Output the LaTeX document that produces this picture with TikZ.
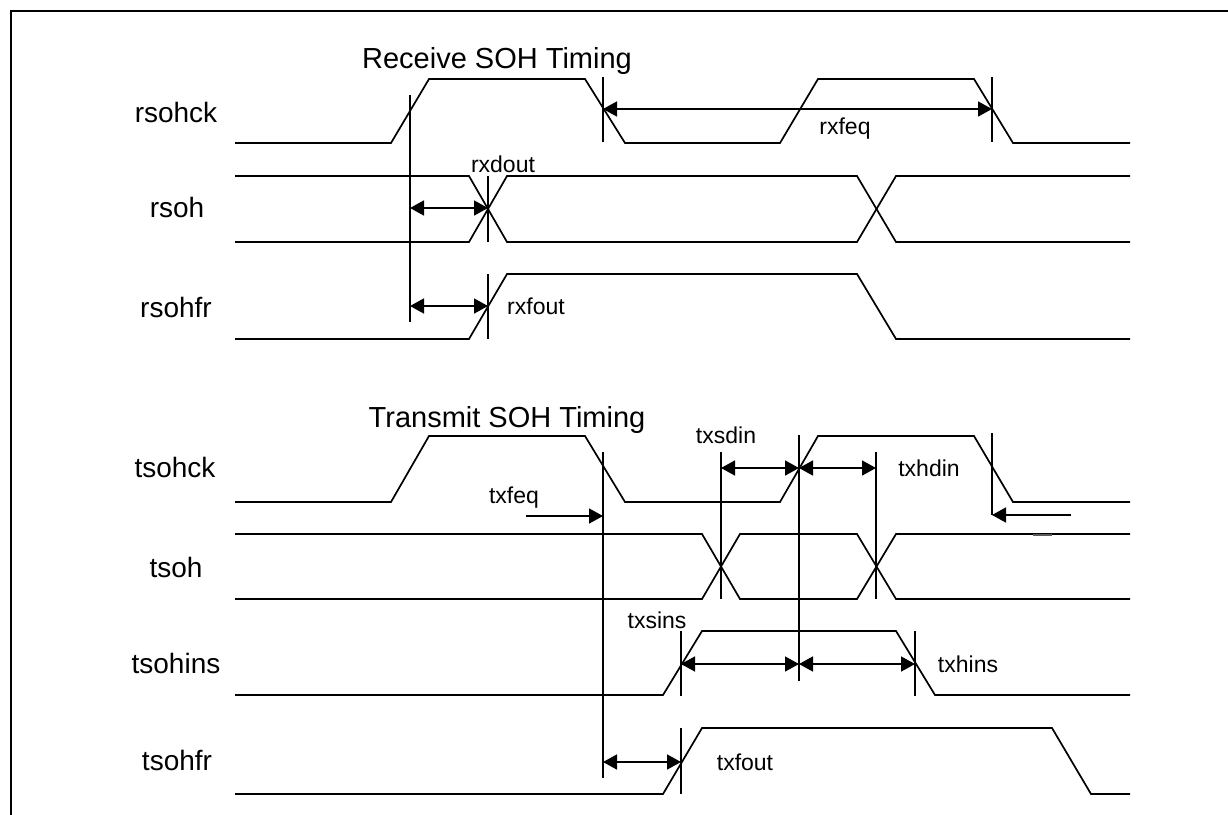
\documentclass[tikz,border=0pt]{standalone}
\usepackage{fontspec}
\setmainfont{Liberation Sans}
\usetikzlibrary{arrows.meta}
\begin{document}
\begin{tikzpicture}[x=1pt,y=-1pt,
  wave/.style={line width=1.7pt,line join=miter},
  vmark/.style={line width=1.6pt},
  dimarrow/.style={line width=1.6pt,{Triangle[length=14pt,width=15pt]}-{Triangle[length=14pt,width=15pt]}},
  onearrow/.style={line width=1.6pt,-{Triangle[length=14pt,width=15pt]}},
  siglabel/.style={font=\fontsize{28}{32}\selectfont,anchor=base,inner sep=0pt},
  titlelabel/.style={font=\fontsize{29}{33}\selectfont,anchor=base,inner sep=0pt},
  smalllabel/.style={font=\fontsize{23}{27}\selectfont,anchor=base,inner sep=0pt}]
\useasboundingbox (0,0) rectangle (1228,814);
% frame
\draw[line width=2pt] (1230,11) -- (11,11) -- (11,816);

% ---------- Receive ----------
\node[titlelabel] (rtitle) at (497,68) {Receive SOH Timing};
\node[siglabel] (lrsohck) at (176,122) {rsohck};
\node[siglabel] (lrsoh) at (177,217) {rsoh};
\node[siglabel] (lrsohfr) at (176,317) {rsohfr};

% rsohck
\draw[wave] (235,143) -- (391,143) -- (429,79) -- (585,79) -- (625,143) -- (780,143) -- (818,79) -- (974,79) -- (1013,143) -- (1130,143);
% rsoh
\draw[wave] (235,176) -- (469,176) -- (507,242) -- (857,242) -- (896,176) -- (1130,176);
\draw[wave] (235,242) -- (469,242) -- (507,176) -- (857,176) -- (896,242) -- (1130,242);
% rsohfr
\draw[wave] (235,339) -- (469,339) -- (507,274) -- (857,274) -- (896,339) -- (1130,339);

% markers
\coordinate (ra1) at (410,95);   \coordinate (ra2) at (410,322);
\coordinate (rb1) at (603,77);   \coordinate (rb2) at (603,142);
\coordinate (rc1) at (992,77);   \coordinate (rc2) at (992,142);
\coordinate (rd1) at (488,176);  \coordinate (rd2) at (488,242);
\coordinate (re1) at (488,274);  \coordinate (re2) at (488,339);
\draw[vmark] (ra1) -- (ra2);
\draw[vmark] (rb1) -- (rb2);
\draw[vmark] (rc1) -- (rc2);
\draw[vmark] (rd1) -- (rd2);
\draw[vmark] (re1) -- (re2);

\coordinate (rxfeqA) at (603,109); \coordinate (rxfeqB) at (992,109);
\draw[dimarrow] (rxfeqA) -- (rxfeqB);
\node[smalllabel] (lrxfeq) at (845,134) {rxfeq};
\coordinate (rxdoutA) at (410,208); \coordinate (rxdoutB) at (488,208);
\draw[dimarrow] (rxdoutA) -- (rxdoutB);
\node[smalllabel] (lrxdout) at (503,172) {rxdout};
\coordinate (rxfoutA) at (410,306); \coordinate (rxfoutB) at (488,306);
\draw[dimarrow] (rxfoutA) -- (rxfoutB);
\node[smalllabel] (lrxfout) at (536,314) {rxfout};

% ---------- Transmit ----------
\node[titlelabel] (ttitle) at (507,427) {Transmit SOH Timing};
\node[siglabel] (ltsohck) at (175,477) {tsohck};
\node[siglabel] (ltsoh) at (176,577) {tsoh};
\node[siglabel] (ltsohins) at (176,673) {tsohins};
\node[siglabel] (ltsohfr) at (177,770) {tsohfr};

% tsohck
\draw[wave] (235,502) -- (391,502) -- (429,436) -- (585,436) -- (625,502) -- (780,502) -- (818,436) -- (974,436) -- (1013,502) -- (1130,502);
% tsoh
\draw[wave] (235,534) -- (702,534) -- (740,599) -- (857,599) -- (896,534) -- (1130,534);
\draw[wave] (235,599) -- (702,599) -- (740,534) -- (857,534) -- (896,599) -- (1130,599);
\draw[line width=2.6pt,gray!70!black] (1033,535) -- (1052,535);
% tsohins
\draw[wave] (235,695) -- (663,695) -- (702,631) -- (896,631) -- (935,695) -- (1130,695);
% tsohfr
\draw[wave] (235,794) -- (663,794) -- (702,728) -- (1052,728) -- (1091,794) -- (1130,794);

% markers
\coordinate (ta1) at (603,452);  \coordinate (ta2) at (603,778);
\coordinate (tb1) at (799,435);  \coordinate (tb2) at (799,681);
\coordinate (tc1) at (721,452);  \coordinate (tc2) at (721,599);
\coordinate (td1) at (876,452);  \coordinate (td2) at (876,599);
\coordinate (te1) at (992,433);  \coordinate (te2) at (992,515);
\coordinate (tf1) at (681,631);  \coordinate (tf2) at (681,696);
\coordinate (tg1) at (915,631);  \coordinate (tg2) at (915,696);
\coordinate (th1) at (681,728);  \coordinate (th2) at (681,794);
\draw[vmark] (ta1) -- (ta2);
\draw[vmark] (tb1) -- (tb2);
\draw[vmark] (tc1) -- (tc2);
\draw[vmark] (td1) -- (td2);
\draw[vmark] (te1) -- (te2);
\draw[vmark] (tf1) -- (tf2);
\draw[vmark] (tg1) -- (tg2);
\draw[vmark] (th1) -- (th2);

\coordinate (txfeqS) at (526,516); \coordinate (txfeqE) at (603,516);
\draw[onearrow] (txfeqS) -- (txfeqE);
\node[smalllabel] (ltxfeq) at (514,503) {txfeq};

\coordinate (txsdinA) at (721,468); \coordinate (txsdinB) at (799,468);
\draw[dimarrow] (txsdinA) -- (txsdinB);
\node[smalllabel] (ltxsdin) at (726,443) {txsdin};
\coordinate (txhdinB) at (876,468);
\draw[dimarrow] (txsdinB) -- (txhdinB);
\node[smalllabel] (ltxhdin) at (929,476) {txhdin};

\coordinate (txholdS) at (1071,515);
\draw[onearrow] (txholdS) -- (te2);

\coordinate (txsinsA) at (681,664); \coordinate (txsinsB) at (799,664);
\draw[dimarrow] (txsinsA) -- (txsinsB);
\node[smalllabel] (ltxsins) at (657,628) {txsins};
\coordinate (txhinsB) at (915,664);
\draw[dimarrow] (txsinsB) -- (txhinsB);
\node[smalllabel] (ltxhins) at (968,672) {txhins};

\coordinate (txfoutA) at (603,762); \coordinate (txfoutB) at (681,762);
\draw[dimarrow] (txfoutA) -- (txfoutB);
\node[smalllabel] (ltxfout) at (745,770) {txfout};
\end{tikzpicture}
\end{document}
